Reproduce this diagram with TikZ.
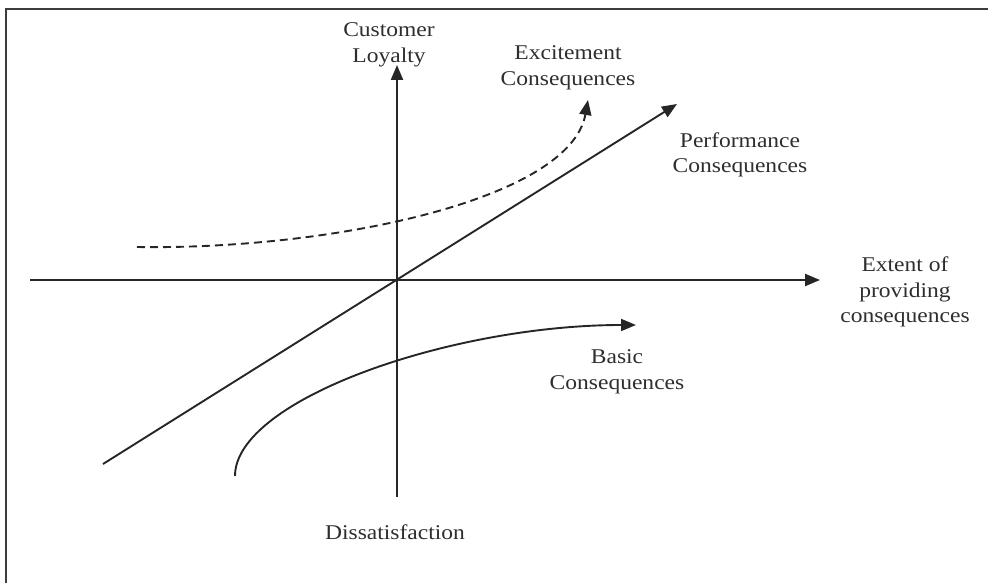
\documentclass[tikz,border=0pt]{standalone}
\usepackage{fontspec}
\setmainfont[FakeStretch=1.12]{Liberation Serif}
\usetikzlibrary{arrows.meta}
\definecolor{ink}{HTML}{262626}
\definecolor{txt}{HTML}{2E2E2E}
\tikzset{
  lbl/.style={font=\fontsize{21}{25.5}\selectfont, text=txt, align=center, inner sep=0pt},
  axis/.style={draw=ink, line width=2.2pt, -{Triangle[length=15pt,width=12pt]}},
  curve/.style={draw=ink, line width=1.9pt, -{Triangle[length=15pt,width=12pt]}},
  dashcurve/.style={curve, dash pattern=on 8pt off 5pt},
  frameline/.style={draw=ink!90, line width=2.5pt}
}
\begin{document}
\begin{tikzpicture}[x=1pt,y=-1pt]
\useasboundingbox (0,0) rectangle (988,583);
% frame
\coordinate (fbl) at (6,590);
\coordinate (ftl) at (6,9);
\coordinate (ftr) at (995,9);
\draw[frameline] (fbl) -- (ftl) -- (ftr);
% axes
\coordinate (O) at (397,280);
\coordinate (xl) at (30,280);
\coordinate (xr) at (820,280);
\coordinate (yb) at (397,497);
\coordinate (yt) at (397,65);
\draw[axis] (xl) -- (xr);
\draw[axis] (yb) -- (yt);
% performance
\coordinate (ps) at (103,464);
\coordinate (pe) at (677,104);
\draw[curve] (ps) -- (pe);
% excitement
\coordinate (es) at (137,247);
\coordinate (ee) at (588,100);
\draw[dashcurve] (es) .. controls (330,250) and (570,200) .. (ee);
% basic
\coordinate (bs) at (235,476);
\coordinate (be) at (636,325);
\draw[curve] (bs) .. controls (235,400) and (450,325) .. (be);
% labels
\node[lbl] (cl) at (389,45) {Customer\\Loyalty};
\node[lbl] (ex) at (568,68) {Excitement\\Consequences};
\node[lbl] (pf) at (740,155) {Performance\\Consequences};
\node[lbl] (et) at (905,292) {Extent of\\providing\\consequences};
\node[lbl] (bc) at (617,372) {Basic\\Consequences};
\node[lbl] (ds) at (395,532) {Dissatisfaction};
\end{tikzpicture}
\end{document}
